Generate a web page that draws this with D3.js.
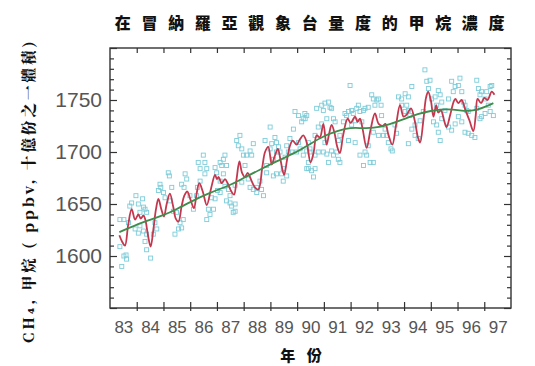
<!DOCTYPE html>
<html>
<head>
<meta charset="utf-8">
<script src="https://cdn.jsdelivr.net/npm/d3@7"></script>
<style>
html,body{margin:0;padding:0;background:#fff;}
svg{display:block;}
</style>
</head>
<body>
<svg id="chart" width="535" height="366"></svg>
<script>
// ---- data ----
const titleText = "在冒納羅亞觀象台量度的甲烷濃度";
const xTitle = "年 份";
const yTitle = "CH₄, 甲烷 ( ppbv, 十億份之一體積)";
const yearTickLabels = ["83","84","85","86","87","88","89","90","91","92","93","94","95","96","97"];
const yLabelValues = [1600, 1650, 1700, 1750];

// individual measurements [year, ppbv]
const samples = [
[1983.37,1635],[1983.52,1635],[1983.37,1609],[1983.52,1600],[1983.60,1601],[1983.44,1590],[1983.62,1597],[1983.69,1632],
[1983.81,1651],[1983.74,1648],[1983.97,1658],[1984.06,1650],[1984.22,1655],[1984.12,1642],[1984.25,1647],[1984.31,1645],
[1984.37,1642],[1983.94,1626],[1984.06,1622],[1984.25,1624],[1984.37,1621],[1984.12,1629],[1984.31,1614],[1984.37,1606],
[1984.52,1598],[1984.62,1621],[1984.75,1626],[1984.68,1632],[1984.81,1663],[1984.90,1666],[1984.87,1669],[1985.00,1661],
[1985.06,1656],[1985.18,1680],[1985.22,1677],[1985.31,1666],[1985.24,1653],[1985.37,1643],[1985.49,1642],[1985.62,1632],
[1985.56,1626],[1985.68,1627],[1985.43,1621],[1985.74,1635],[1985.81,1679],[1985.87,1674],[1985.77,1666],[1985.68,1669],
[1985.99,1658],[1986.12,1645],[1986.24,1658],[1986.27,1666],[1986.37,1672],[1986.30,1690],[1986.37,1684],[1986.49,1697],
[1986.55,1690],[1986.62,1684],[1986.55,1679],[1986.68,1645],[1986.74,1640],[1986.62,1635],[1986.87,1645],[1986.80,1656],
[1986.93,1655],[1986.93,1685],[1986.99,1680],[1987.12,1690],[1987.18,1687],[1987.24,1693],[1987.30,1697],[1987.36,1687],
[1987.24,1679],[1987.12,1672],[1987.30,1667],[1987.43,1664],[1987.12,1661],[1987.02,1663],[1987.49,1658],[1987.55,1648],
[1987.61,1642],[1987.68,1650],[1987.74,1711],[1987.86,1716],[1987.80,1706],[1987.93,1703],[1987.99,1697],[1988.05,1687],
[1988.11,1697],[1988.24,1701],[1988.36,1708],[1988.30,1697],[1988.17,1674],[1988.24,1666],[1988.36,1664],[1988.49,1666],
[1988.61,1672],[1988.67,1664],[1988.74,1658],[1988.49,1661],[1988.80,1711],[1988.99,1724],[1989.05,1708],[1989.17,1714],
[1989.23,1709],[1989.30,1705],[1988.99,1703],[1989.23,1700],[1989.11,1693],[1989.36,1700],[1989.48,1684],[1989.42,1679],
[1989.48,1672],[1989.61,1677],[1989.55,1695],[1989.67,1700],[1989.73,1713],[1989.86,1722],[1989.92,1739],[1990.05,1735],
[1990.17,1729],[1990.23,1732],[1990.29,1737],[1990.05,1709],[1990.11,1703],[1990.23,1697],[1990.36,1701],[1990.42,1690],
[1990.48,1700],[1990.36,1684],[1989.98,1700],[1989.80,1700],[1989.61,1706],[1989.23,1679],[1989.11,1677],[1988.86,1680],
[1988.86,1687],[1987.93,1671],[1987.68,1668],[1987.36,1653],[1987.49,1651],[1987.68,1643],
[1990.30,1732],[1990.36,1735],[1990.42,1709],[1990.48,1703],[1990.42,1684],[1990.54,1682],[1990.67,1684],[1990.61,1676],
[1990.67,1697],[1990.79,1700],[1990.67,1716],[1990.79,1724],[1990.92,1727],[1990.73,1742],[1990.92,1745],[1990.98,1740],
[1991.04,1747],[1991.17,1748],[1991.23,1743],[1991.29,1742],[1991.11,1732],[1991.36,1732],[1991.42,1729],[1991.04,1709],
[1990.98,1700],[1991.11,1698],[1991.17,1690],[1991.29,1701],[1991.36,1697],[1991.48,1700],[1991.54,1711],[1991.60,1716],
[1991.54,1693],[1991.60,1690],[1991.73,1729],[1991.79,1737],[1991.85,1735],[1991.92,1739],[1991.98,1764],[1992.04,1740],
[1992.10,1737],[1992.17,1730],[1992.23,1742],[1992.29,1745],[1992.35,1739],[1992.42,1729],[1992.48,1740],[1992.54,1742],
[1992.66,1743],[1992.79,1755],[1992.85,1751],[1992.91,1745],[1992.98,1750],[1993.04,1751],[1993.14,1745],[1993.16,1735],
[1993.29,1722],[1993.35,1716],[1993.23,1716],[1993.04,1716],[1992.85,1719],[1992.66,1706],[1992.54,1700],[1992.60,1697],
[1992.73,1690],[1992.85,1690],[1992.48,1687],[1992.35,1697],[1992.17,1709],[1991.92,1711],[1992.04,1726],[1993.41,1709],
[1993.51,1703],[1993.56,1701],[1993.66,1726],[1993.72,1718],[1993.79,1753],[1993.91,1751],[1994.04,1756],[1994.16,1753],
[1994.29,1763],[1994.10,1745],[1993.91,1745],[1994.04,1739],[1994.16,1740],[1994.22,1735],[1994.29,1722],[1994.41,1716],
[1994.16,1708],[1994.53,1713],[1994.41,1726],[1994.60,1730],[1994.72,1739],[1994.78,1779],[1994.85,1768],[1994.97,1769],
[1994.91,1761],[1995.03,1751],[1995.16,1753],[1995.28,1759],[1995.35,1755],[1995.41,1748],[1995.22,1745],[1995.10,1729],
[1995.22,1726],[1995.28,1719],[1995.35,1711],[1995.41,1732],[1995.53,1740],[1995.66,1751],[1995.78,1768],[1995.84,1758],
[1995.91,1763],[1996.03,1764],[1996.09,1771],[1996.16,1758],[1996.22,1748],[1996.28,1745],[1996.34,1740],[1996.40,1739],
[1995.66,1724],[1995.78,1721],[1995.91,1727],[1996.03,1734],[1996.16,1729],[1996.28,1719],[1996.40,1718],[1996.53,1716],
[1996.65,1714],[1996.72,1769],[1996.78,1761],[1996.84,1755],[1996.90,1758],[1997.03,1751],[1997.09,1758],[1997.22,1763],
[1997.28,1764],[1997.15,1745],[1997.22,1739],[1997.03,1737],[1996.90,1734],[1996.84,1732],[1996.72,1742],[1997.34,1735]
];

// smoothed seasonal fit (red)
const fitYears = [1983.35,1983.45,1983.56,1983.68,1983.81,1983.94,1984.06,1984.15,1984.25,1984.32,1984.42,1984.52,1984.62,1984.72,1984.81,1984.92,1985.02,1985.12,1985.24,1985.36,1985.46,1985.56,1985.68,1985.78,1985.89,1986.00,1986.14,1986.24,1986.34,1986.47,1986.62,1986.78,1986.93,1987.00,1987.06,1987.18,1987.30,1987.40,1987.52,1987.64,1987.74,1987.84,1987.94,1988.05,1988.15,1988.30,1988.42,1988.55,1988.70,1988.80,1988.92,1989.05,1989.15,1989.28,1989.38,1989.51,1989.62,1989.72,1989.83,1989.98,1990.10,1990.23,1990.35,1990.50,1990.62,1990.73,1990.85,1990.98,1991.10,1991.20,1991.29,1991.40,1991.50,1991.60,1991.72,1991.89,1992.00,1992.17,1992.26,1992.35,1992.45,1992.60,1992.75,1992.91,1993.05,1993.20,1993.30,1993.42,1993.56,1993.70,1993.85,1993.98,1994.10,1994.26,1994.40,1994.52,1994.60,1994.72,1994.82,1994.90,1995.00,1995.10,1995.20,1995.28,1995.38,1995.50,1995.59,1995.72,1995.85,1995.92,1996.03,1996.15,1996.30,1996.45,1996.59,1996.68,1996.75,1996.88,1997.00,1997.12,1997.28,1997.38];
const fitValues = [1620,1614,1610,1630,1645,1635,1640,1636,1639,1635,1620,1609,1625,1645,1655,1645,1638,1650,1660,1648,1636,1633,1648,1658,1662,1655,1646,1660,1670,1662,1649,1665,1678,1674,1676,1670,1674,1670,1663,1659,1675,1691,1680,1676,1680,1672,1666,1664,1686,1700,1705,1688,1695,1703,1692,1678,1692,1705,1711,1707,1712,1716,1710,1690,1700,1716,1714,1727,1707,1718,1726,1718,1705,1699,1716,1732,1728,1734,1729,1732,1722,1704,1722,1737,1727,1725,1727,1716,1707,1726,1745,1734,1736,1742,1730,1714,1709,1730,1752,1758,1750,1734,1745,1738,1740,1730,1724,1735,1748,1751,1747,1750,1740,1730,1720,1735,1751,1747,1752,1750,1758,1755];

// long-term trend (green)
const trendYears = [1983.35,1984.25,1985.0,1985.5,1986.0,1986.74,1987.5,1988.0,1988.6,1989.23,1990.0,1990.5,1991.04,1991.5,1991.79,1992.2,1992.54,1993.16,1993.6,1994.04,1994.5,1995.03,1995.66,1996.1,1996.4,1996.78,1997.0,1997.34];
const trendValues = [1623,1633,1639,1645,1652,1661,1668,1675,1683,1691,1700,1708,1716,1720,1722.5,1723.5,1722.5,1724,1728,1732,1736.5,1740,1741.5,1740,1739,1741,1743,1747];

// ---- drawing ----
const svg = d3.select("#chart");
const x = d3.scaleLinear().domain([1983, 1998]).range([110, 511]);
const y = d3.scaleLinear().domain([1550, 1800]).range([308, 48]);
const axisColor = "#333";
const labelColor = "#555";

// samples
svg.append("g").selectAll("rect").data(samples).join("rect")
  .attr("x", d => x(d[0]) - 2).attr("y", d => y(d[1]) - 2)
  .attr("width", 4).attr("height", 4)
  .attr("fill", "none").attr("stroke", "#7cccd9").attr("stroke-width", 0.9);

// fit lines
const fitData = fitYears.map((t, i) => [t, fitValues[i]]);
const trendData = trendYears.map((t, i) => [t, trendValues[i]]);
svg.append("path").datum(fitData)
  .attr("d", d3.line().x(d => x(d[0])).y(d => y(d[1])).curve(d3.curveCatmullRom.alpha(0.5)))
  .attr("fill", "none").attr("stroke", "#c4384f").attr("stroke-width", 1.8);
svg.append("path").datum(trendData)
  .attr("d", d3.line().x(d => x(d[0])).y(d => y(d[1])).curve(d3.curveBasis))
  .attr("fill", "none").attr("stroke", "#3f8c4c").attr("stroke-width", 1.8);

// axes
const minorY = d3.range(1550, 1801, 10).filter(v => v % 50 !== 0);
const majorY = d3.range(1550, 1801, 50);
const yearTicks = d3.range(1984, 1998);

function styleAxis(g) {
  g.select(".domain").remove();
  g.selectAll(".tick line").attr("stroke", axisColor).attr("stroke-width", 1.2);
}
svg.append("g").attr("transform", "translate(110,0)")
  .call(d3.axisLeft(y).tickValues(minorY).tickSize(-4).tickFormat("")).call(styleAxis);
svg.append("g").attr("transform", "translate(110,0)")
  .call(d3.axisLeft(y).tickValues(majorY).tickSize(-7).tickPadding(8)
    .tickFormat(v => yLabelValues.includes(v) ? String(v) : ""))
  .call(styleAxis)
  .call(g => g.selectAll("text").attr("fill", labelColor)
    .style("font-family", "'Liberation Sans', Arial, sans-serif").style("font-size", "21px"));
svg.append("g").attr("transform", "translate(511,0)")
  .call(d3.axisRight(y).tickValues(minorY).tickSize(-4).tickFormat("")).call(styleAxis);
svg.append("g").attr("transform", "translate(511,0)")
  .call(d3.axisRight(y).tickValues(majorY).tickSize(-7).tickFormat("")).call(styleAxis);
svg.append("g").attr("transform", "translate(0,48)")
  .call(d3.axisTop(x).tickValues(yearTicks).tickSize(-5).tickFormat("")).call(styleAxis);
svg.append("g").attr("transform", "translate(0,308)")
  .call(d3.axisBottom(x).tickValues(yearTicks).tickSize(3).tickFormat("")).call(styleAxis)
  .call(g => g.selectAll(".tick line").attr("y1", -6));
svg.append("g").attr("transform", "translate(0,308)")
  .call(d3.axisBottom(x).tickValues(yearTicks.map(v => v - 0.5).concat([1997.5])).tickSize(0).tickPadding(13)
    .tickFormat((v, i) => yearTickLabels[i]))
  .call(g => g.select(".domain").remove())
  .call(g => g.selectAll("text").attr("fill", labelColor)
    .style("font-family", "'Liberation Sans', Arial, sans-serif").style("font-size", "17px"));

// frame
svg.append("rect").attr("x", 110).attr("y", 48).attr("width", 401).attr("height", 260)
  .attr("fill", "none").attr("stroke", axisColor).attr("stroke-width", 1.4);

// titles
svg.append("text").attr("x", 315).attr("y", 29).attr("text-anchor", "middle")
  .style("font-family", "'Noto Sans CJK TC', 'Noto Sans CJK SC', serif").style("font-weight", "900")
  .style("font-size", "16px").style("letter-spacing", "10.7px").attr("fill", "#111")
  .text(titleText);
svg.append("text").attr("x", 303).attr("y", 361).attr("text-anchor", "middle")
  .style("font-family", "'Noto Sans CJK TC', 'Noto Sans CJK SC', serif").style("font-weight", "900")
  .style("font-size", "15px").style("letter-spacing", "4px").attr("fill", "#111")
  .text(xTitle);
svg.append("text").attr("transform", "translate(34,343) rotate(-90)").attr("text-anchor", "start")
  .style("font-family", "'Noto Serif CJK TC', 'Noto Sans CJK TC', 'DejaVu Serif', serif").style("font-weight", "900")
  .style("font-size", "14.5px").style("letter-spacing", "3px").attr("fill", "#111")
  .text(yTitle);
</script>
</body>
</html>
